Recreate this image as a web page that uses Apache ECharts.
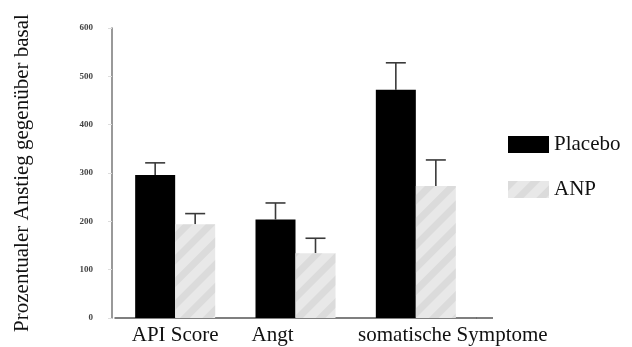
<!DOCTYPE html>
<html>
<head>
<meta charset="utf-8">
<script src="https://cdn.jsdelivr.net/npm/echarts@6/dist/echarts.min.js"></script>
<style>
    html, body {margin: 0; padding: 0; background: #fff;}
    #chart {width: 632px; height: 347px;}
</style>
</head>
<body>
<div id="chart"></div>
<script>
// Daten
var categories = ['API Score', 'Angt', 'somatische Symptome'];
var placebo = [296, 204, 472];
var placeboErr = [321, 238, 528];
var anp = [194, 134, 273];
var anpErr = [216, 165, 327];
var yTicks = [0, 100, 200, 300, 400, 500, 600];

var barW = 40;
var serif = '"Liberation Serif", "DejaVu Serif", serif';

// Fehlerbalken (nur nach oben)
function errorBar(shift) {
    return function(params, api) {
        var base = api.coord([api.value(0), api.value(1)]);
        var top = api.coord([api.value(0), api.value(2)]);
        var x = base[0] + shift;
        var style = {stroke: '#3a3a3a', lineWidth: 1.6, fill: null};
        return {
            type: 'group',
            children: [
                {type: 'line', shape: {x1: x, y1: base[1], x2: x, y2: top[1]}, style: style},
                {type: 'line', shape: {x1: x - 10, y1: top[1], x2: x + 10, y2: top[1]}, style: style}
            ]
        };
    };
}

function errData(vals, errs) {
    var out = [];
    for (var i = 0; i < vals.length; i++) {
        out.push([i, vals[i], errs[i]]);
    }
    return out;
}

var chart = echarts.init(document.getElementById('chart'));
var option = {
    animation: false,
    grid: {
        left: 115,
        right: 156,
        top: 28,
        bottom: 29
    },
    legend: {
        orient: 'vertical',
        left: 503,
        top: 129,
        itemWidth: 41,
        itemHeight: 17,
        itemGap: 24,
        icon: 'rect',
        data: ['Placebo', 'ANP'],
        textStyle: {
            fontFamily: serif,
            fontSize: 21,
            color: '#111'
        }
    },
    xAxis: {
        type: 'category',
        data: [
            {value: categories[0]},
            {value: categories[1], textStyle: {padding: [0, 46, 0, 0]}},
            {value: categories[2], textStyle: {padding: [0, 0, 0, 74]}}
        ],
        axisTick: {show: false},
        axisLine: {lineStyle: {color: '#555', width: 1.5}},
        axisLabel: {
            fontFamily: serif,
            fontSize: 21,
            color: '#111',
            margin: 7,
            interval: 0
        }
    },
    yAxis: {
        type: 'value',
        min: 0,
        max: 600,
        interval: 100,
        offset: 3,
        name: 'Prozentualer Anstieg gegenüber basal',
        nameLocation: 'middle',
        nameRotate: 90,
        nameGap: 79,
        nameTextStyle: {
            fontFamily: serif,
            fontSize: 21,
            color: '#111'
        },
        axisLine: {show: true, lineStyle: {color: '#777', width: 1.5}},
        axisTick: {show: true, length: 4, lineStyle: {color: '#ddd'}},
        splitLine: {show: false},
        axisLabel: {
            fontFamily: serif,
            fontSize: 9,
            fontWeight: 'bold',
            color: '#444',
            margin: 19,
            formatter: function(v) {
                return yTicks.indexOf(v) >= 0 ? String(v) : '';
            }
        }
    },
    series: [
        {
            name: 'Placebo',
            type: 'bar',
            data: placebo,
            barWidth: barW,
            barGap: '0%',
            itemStyle: {color: '#000'}
        },
        {
            name: 'ANP',
            type: 'bar',
            data: anp,
            barWidth: barW,
            itemStyle: {
                color: '#e8e8e8',
                decal: {
                    symbol: 'rect',
                    symbolSize: 1,
                    dashArrayX: [1, 0],
                    dashArrayY: [7, 9],
                    rotation: -Math.PI / 4,
                    color: 'rgba(190,190,190,0.3)'
                }
            }
        },
        {
            type: 'custom',
            renderItem: errorBar(-barW / 2),
            data: errData(placebo, placeboErr),
            encode: {x: 0, y: [1, 2]},
            z: 1
        },
        {
            type: 'custom',
            renderItem: errorBar(barW / 2),
            data: errData(anp, anpErr),
            encode: {x: 0, y: [1, 2]},
            z: 1
        }
    ],
    graphic: [
        {
            // Verlaengerung der x-Achse wie im Original
            type: 'line',
            shape: {x1: 476, y1: 318, x2: 493, y2: 318},
            style: {stroke: '#555', lineWidth: 1.5}
        }
    ]
};
chart.setOption(option);
</script>
</body>
</html>
